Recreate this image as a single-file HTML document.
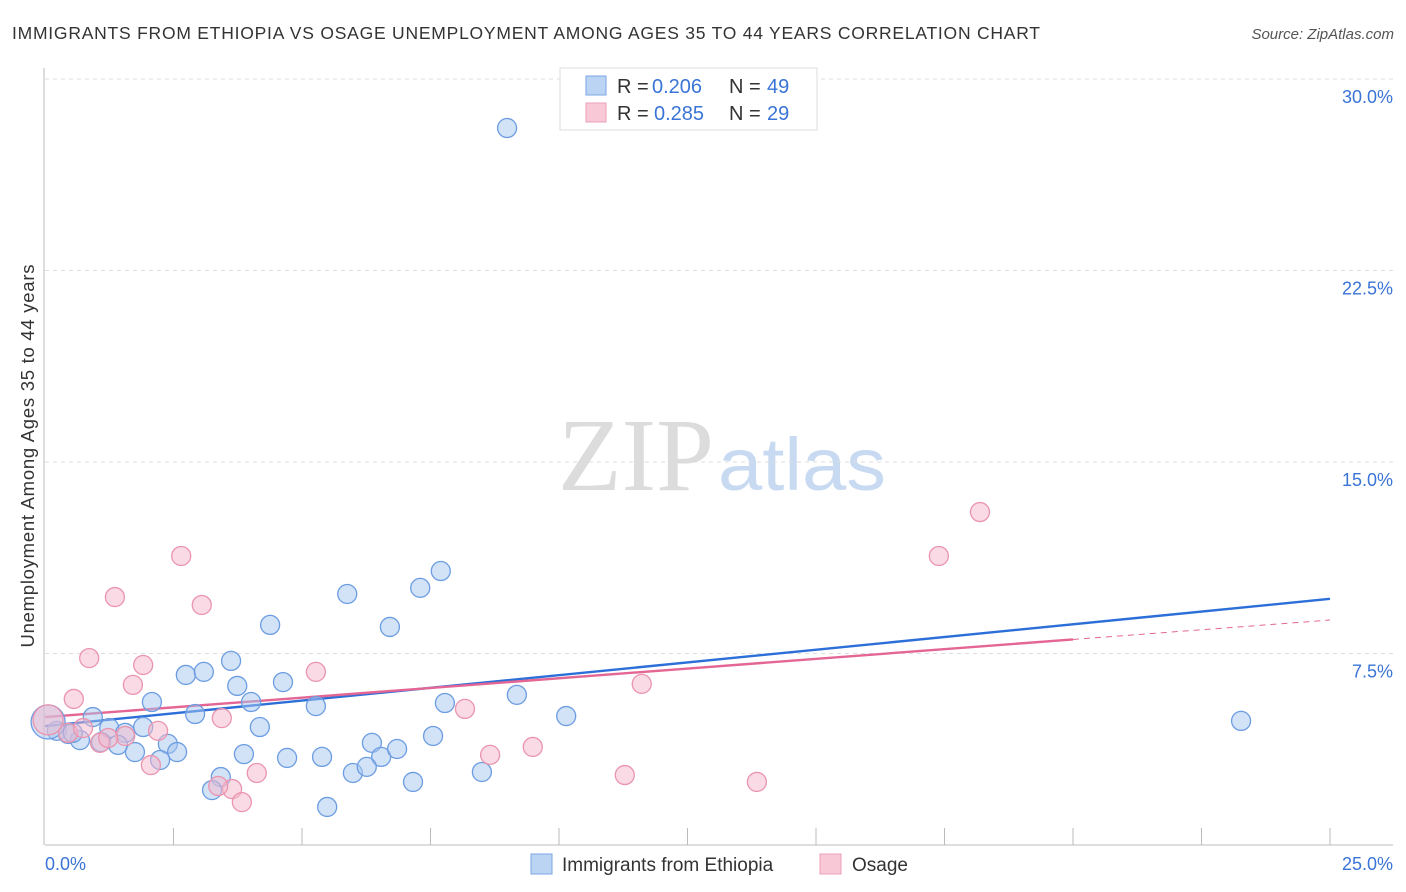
<!DOCTYPE html>
<html><head><meta charset="utf-8"><style>
body{margin:0;background:#fff;font-family:"Liberation Sans",sans-serif;}
svg{display:block}
</style></head><body>
<svg id="chart" width="1406" height="892">
<text x="12" y="39" font-size="17.5" fill="#333" textLength="1028" lengthAdjust="spacing">IMMIGRANTS FROM ETHIOPIA VS OSAGE UNEMPLOYMENT AMONG AGES 35 TO 44 YEARS CORRELATION CHART</text>
<text x="1394" y="39" font-size="15" fill="#555" font-style="italic" text-anchor="end">Source: ZipAtlas.com</text>
<g>
<text x="714" y="490" font-size="104" fill="#dcdcdc" text-anchor="end" font-family="Liberation Serif,serif">ZIP</text>
<text x="718" y="490" font-size="74" fill="#c8daf2" textLength="168" lengthAdjust="spacingAndGlyphs">atlas</text>
</g>
<g id="grid"></g>
<g id="axes"></g>
<g id="lines"></g>
<g id="points"></g>
<text transform="translate(34,456) rotate(-90)" font-size="18.5" fill="#333" text-anchor="middle" textLength="383">Unemployment Among Ages 35 to 44 years</text>
<g>
<rect x="560" y="68" width="257" height="62" fill="#fff" stroke="#ddd"/>
<rect x="586" y="76" width="20" height="19" fill="#bcd4f4" stroke="#7aa6e4"/>
<rect x="586" y="103" width="20" height="19" fill="#f9c8d6" stroke="#eba0b8"/>
<text x="617" y="93" font-size="20" fill="#333">R = <tspan x="652" fill="#3a74d6">0.206</tspan><tspan x="729">N = </tspan><tspan x="767" fill="#3a74d6">49</tspan></text>
<text x="617" y="120" font-size="20" fill="#333">R = <tspan x="654" fill="#3a74d6">0.285</tspan><tspan x="729">N = </tspan><tspan x="767" fill="#3a74d6">29</tspan></text>
</g>
<g>
<rect x="531" y="854" width="21" height="20" fill="#bcd4f4" stroke="#7aa6e4"/>
<text x="562" y="871" font-size="19" fill="#333">Immigrants from Ethiopia</text>
<rect x="820" y="854" width="21" height="20" fill="#f9c8d6" stroke="#eba0b8"/>
<text x="852" y="871" font-size="19" fill="#333">Osage</text>
</g>
</svg>
<script>
const blueX=[8.99,7.70,7.30,5.88,6.71,4.38,3.62,2.74,3.09,4.63,3.74,2.08,4.01,5.27,7.78,9.18,10.14,0.93,2.92,4.18,1.91,1.25,1.56,0.23,0.45,0.68,1.09,1.42,2.39,2.57,1.75,2.24,3.87,4.71,5.39,6.36,6.54,6.85,7.55,5.99,6.26,3.42,3.25,7.16,8.50,5.49,23.27,0.54,0.06];
const blueY=[28.08,10.73,10.07,9.83,8.54,8.62,7.21,6.66,6.78,6.38,6.23,5.60,5.60,5.44,5.56,5.88,5.05,5.01,5.13,4.62,4.62,4.58,4.39,4.47,4.35,4.11,4.03,3.92,3.96,3.64,3.64,3.33,3.56,3.41,3.45,4.00,3.45,3.76,4.27,2.82,3.06,2.66,2.15,2.47,2.86,1.49,4.86,4.39,4.82];
const pinkX=[2.65,1.36,3.05,1.91,0.86,1.71,0.56,5.27,3.44,2.20,1.07,1.56,2.06,3.64,3.83,4.12,8.17,8.66,9.49,11.61,11.28,13.85,17.39,18.19,0.45,0.74,1.23,3.37,0.06];
const pinkY=[11.32,9.71,9.40,7.05,7.32,6.27,5.72,6.78,4.97,4.47,4.00,4.27,3.13,2.19,1.68,2.82,5.33,3.53,3.84,6.31,2.74,2.47,11.32,13.04,4.39,4.58,4.19,2.31,4.90];
const blueTrend=[4.66,9.64];
const pinkTrend=[5.01,8.81];
const pinkSolidEnd=20.0;
const yTicks=[7.5,15.0,22.5,30.0];
const yTickLabels=["7.5%","15.0%","22.5%","30.0%"];
const xTickValues=[0,2.5,5,7.5,10,12.5,15,17.5,20,22.5,25];
const NS="http://www.w3.org/2000/svg";
const X0=45,X1=1330,Y0=845,YTOP=79;
const xs=v=>X0+v/25*(X1-X0);
const ys=v=>Y0-v/30*(Y0-YTOP);
function mk(tag,attrs,parent){const e=document.createElementNS(NS,tag);for(const k in attrs)e.setAttribute(k,attrs[k]);parent.appendChild(e);return e;}
const grid=document.getElementById('grid'),axes=document.getElementById('axes'),lines=document.getElementById('lines'),pts=document.getElementById('points');
yTicks.forEach((t,i)=>{
 const g=mk('line',{x1:X0,x2:1393,y1:ys(t),y2:ys(t),stroke:'#ddd','stroke-dasharray':'4,4'},grid);
 
 
 const l=mk('text',{x:1393,y:ys(t)+24,'font-size':18,fill:'#3a74d6','text-anchor':'end'},axes);
 l.textContent=yTickLabels[i];
 
 
});
const ya=mk('line',{x1:44,x2:44,y1:68,y2:Y0,stroke:'#bbb'},axes);


const xa=mk('line',{x1:X0,x2:1393,y1:Y0,y2:Y0,stroke:'#bbb'},axes);


xTickValues.slice(1).forEach(v=>{
 const t=mk('line',{x1:xs(v),x2:xs(v),y1:828,y2:Y0,stroke:'#bbb'},axes);
 
 
});
const xl0=mk('text',{x:45,y:870,'font-size':18,fill:'#3a74d6'},axes);xl0.textContent='0.0%';


const xl1=mk('text',{x:1393,y:870,'font-size':18,fill:'#3a74d6','text-anchor':'end'},axes);xl1.textContent='25.0%';


function dot(x,y,r,fill,stroke,name){const c=mk('circle',{cx:xs(x),cy:ys(y),r:r,fill:fill,stroke:stroke,'stroke-width':1.3},pts);
 
 }
blueX.forEach((x,i)=>dot(x,blueY[i],i===blueX.length-1?17:9.5,'rgba(165,198,240,0.5)','#6c9de2','ethiopia-point'));
pinkX.forEach((x,i)=>dot(x,pinkY[i],i===pinkX.length-1?15:9.5,'rgba(246,184,204,0.5)','#eb94ae','osage-point'));
const bl=mk('line',{x1:xs(0),y1:ys(blueTrend[0]),x2:xs(25),y2:ys(blueTrend[1]),stroke:'#2c6fd8','stroke-width':2.4},lines);


const pe=pinkTrend[0]+(pinkTrend[1]-pinkTrend[0])*pinkSolidEnd/25;
const pl=mk('line',{x1:xs(0),y1:ys(pinkTrend[0]),x2:xs(pinkSolidEnd),y2:ys(pe),stroke:'#e46694','stroke-width':2.4},lines);


const pd=mk('line',{x1:xs(pinkSolidEnd),y1:ys(pe),x2:xs(25),y2:ys(pinkTrend[1]),stroke:'#e46694','stroke-width':1,'stroke-dasharray':'6,5'},lines);


</script>
</body></html>
